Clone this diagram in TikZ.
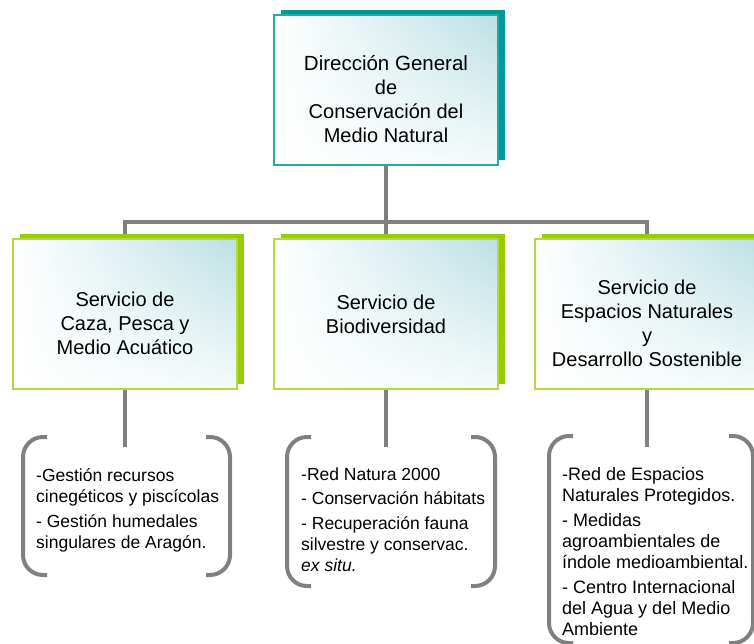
\documentclass[tikz,border=0pt]{standalone}
\usepackage{fontspec}
\setmainfont{Liberation Sans}
\usetikzlibrary{shadows,shadings,backgrounds}

\definecolor{dirteal}{HTML}{009999}
\definecolor{svcgreen}{HTML}{99CC00}
\definecolor{paleteal}{HTML}{BCE0E3}
\definecolor{linegray}{HTML}{808080}

\tikzset{
  box/.style={shade, upper left=white, lower left=white,
    upper right=paleteal, lower right=paleteal!15,
    line width=1.5pt, minimum width=224pt, minimum height=150pt,
    inner sep=0pt, align=center, font=\fontsize{20}{24}\selectfont},
  dirbox/.style={box, draw=dirteal!85!white,
    drop shadow={shadow xshift=7pt, shadow yshift=5pt, fill=dirteal, opacity=1}},
  svcbox/.style={box, draw=svcgreen!75!white,
    drop shadow={shadow xshift=7pt, shadow yshift=5pt, fill=svcgreen, opacity=1}},
  conn/.style={linegray, line width=4pt},
  brace/.style={linegray, line width=4pt, rounded corners=20pt},
  tasks/.style={anchor=north west, inner sep=0pt, align=left,
    font=\fontsize{17.5}{21}\selectfont}
}

% left x, right x, top y, bottom y
\newcommand{\bracepair}[4]{%
  \draw[brace] (#1+24,#3) -- (#1,#3) -- (#1,#4) -- (#1+24,#4);
  \draw[brace] (#2-24,#3) -- (#2,#3) -- (#2,#4) -- (#2-24,#4);
}

\begin{document}
\begin{tikzpicture}[x=1pt, y=-1pt]
    \useasboundingbox (0,0) rectangle (754,644);
    \clip (0,0) rectangle (754,644);

    % Direction and the three services (struts push the text down a little)
    \node[dirbox] (dir) at (386,90) {\fontsize{20.5}{24.5}\selectfont \rule{0pt}{33pt}Dirección General\\de\\Conservación del\\Medio Natural};
    \node[svcbox] (caza) at (125,314) {\rule{0pt}{34pt}Servicio de\\Caza, Pesca y\\Medio Acuático};
    \node[svcbox] (biodiv) at (386,314) {Servicio de\\Biodiversidad};
    \node[svcbox] (espacios) at (647,314) {\rule{0pt}{33pt}Servicio de\\Espacios Naturales\\y\\Desarrollo Sostenible};

    % Tasks of each service
    \node[tasks] (tcaza) at (36,468) {-Gestión recursos\\cinegéticos y piscícolas\\[4pt]- Gestión humedales\\singulares de Aragón.};
    \node[tasks] (tbiodiv) at (301,468) {-Red Natura 2000\\[3pt]- Conservación hábitats\\[4pt]- Recuperación fauna\\silvestre y conservac.\\\textit{ex situ.}};
    \node[tasks, font=\fontsize{18}{21}\selectfont] (tespacios) at (562,467) {-Red de Espacios\\Naturales Protegidos.\\[4pt]- Medidas\\agroambientales de\\índole medioambiental.\\[4pt]- Centro Internacional\\del Agua y del Medio\\Ambiente};

    % Brackets round the tasks
    \bracepair{23}{230}{437}{575}
    \bracepair{287}{495}{437}{586}
    \bracepair{549}{753}{436}{643}

    % Connectors behind the boxes
    \begin{scope}[on background layer]
        \coordinate (bus) at (dir.south |- 0,222);
        \draw[conn] (dir.south) -- (biodiv.north);
        \draw[conn] (caza.north) |- (bus) -| (espacios.north);
        \foreach \s in {caza,biodiv,espacios} {
            \coordinate (\s-end) at (\s.south |- 0,447);
            \draw[conn] (\s.south) -- (\s-end);
        }
    \end{scope}
\end{tikzpicture}
\end{document}
